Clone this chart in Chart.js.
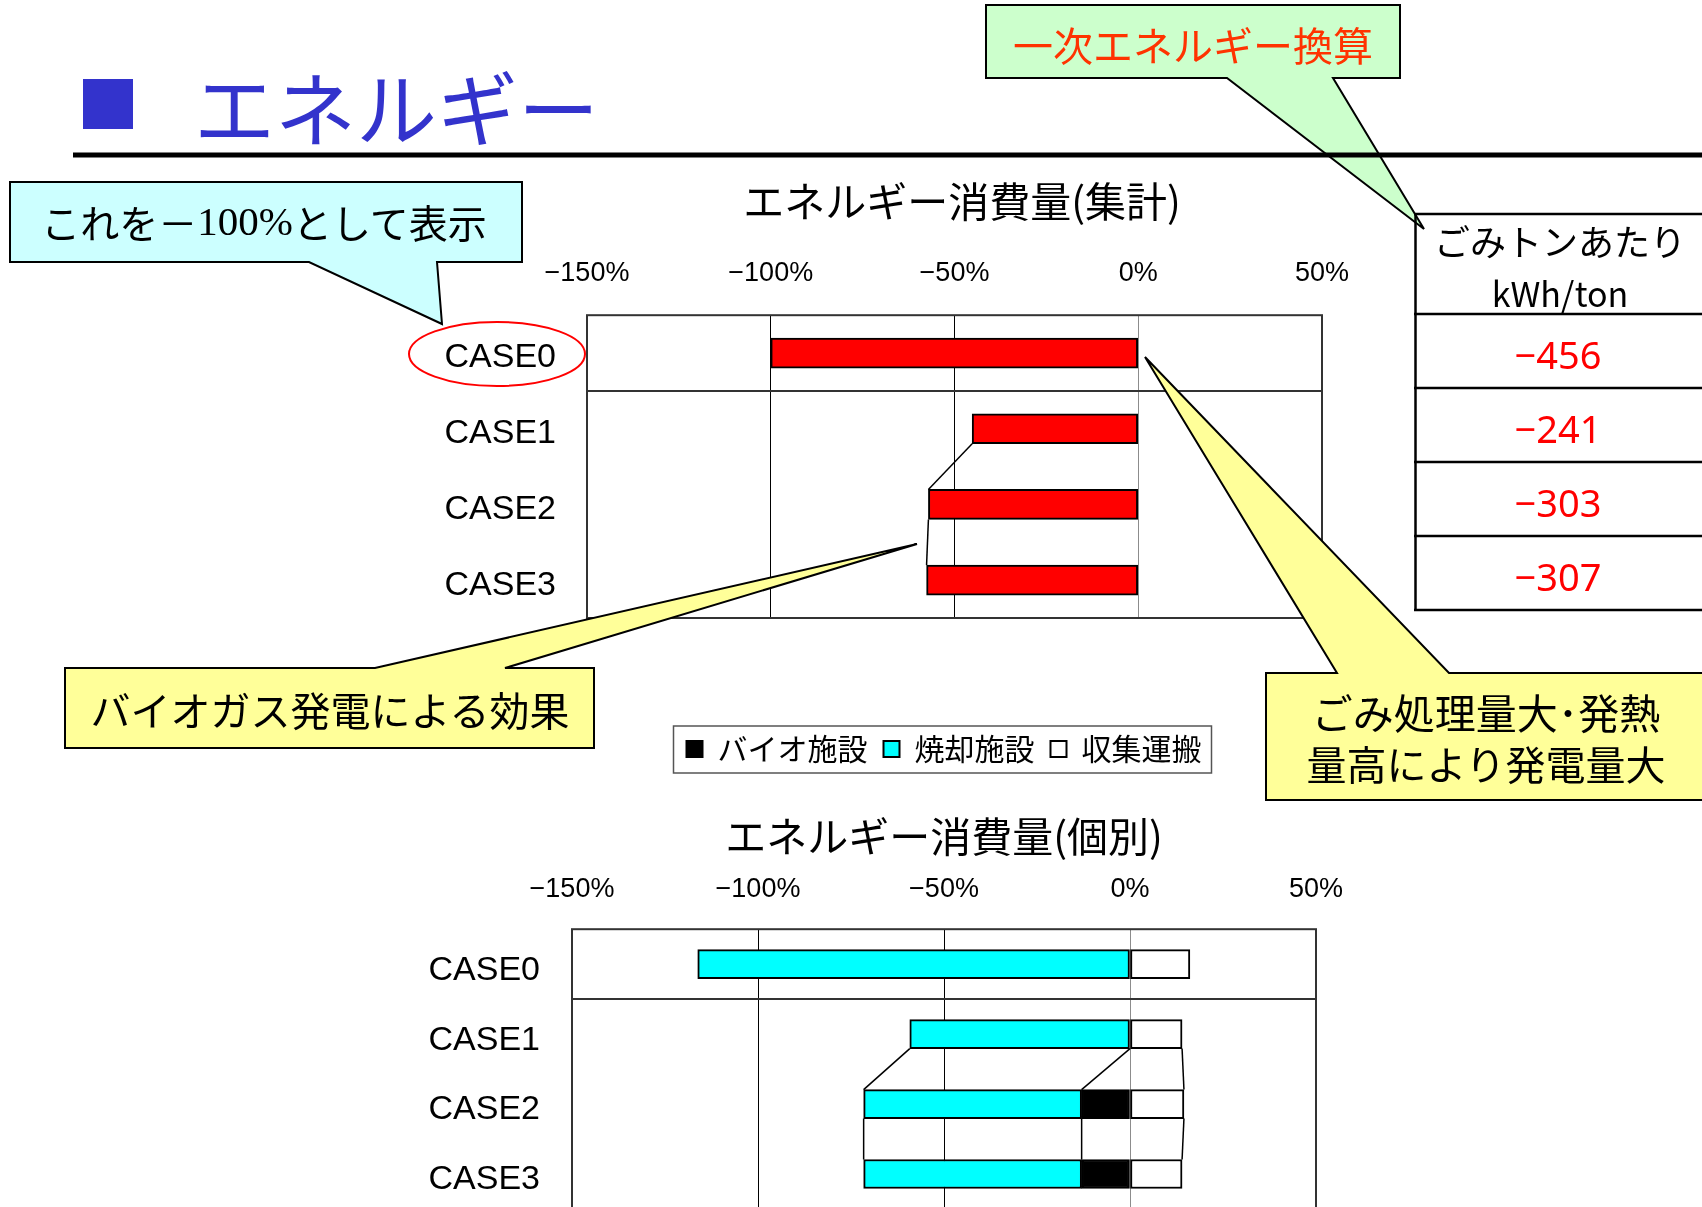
<!DOCTYPE html>
<html lang="ja">
<head>
<meta charset="utf-8">
<script src="https://cdn.jsdelivr.net/npm/chart.js@4.4.1/dist/chart.umd.min.js"></script>
<style>
html,body{margin:0;padding:0;background:#fff;}
body{width:1702px;height:1207px;overflow:hidden;position:relative;font-family:'Noto Sans CJK JP',sans-serif;}
.cw{position:absolute;}
#overlay{position:absolute;left:0;top:0;z-index:2;pointer-events:none;}
</style>
</head>
<body>
<div class="cw" style="left:400px;top:170px;width:1124px;height:460px"><canvas id="c1" width="1124" height="460"></canvas></div>
<div class="cw" style="left:372px;top:708px;width:984px;height:507px"><canvas id="c2" width="984" height="507"></canvas></div>

<svg id="overlay" width="1702" height="1207" xmlns="http://www.w3.org/2000/svg" font-family="'Noto Sans CJK JP', sans-serif">
  <!-- page heading -->
  <rect x="83" y="79" width="50" height="50" fill="#3333CC"/>
  <text x="194" y="104" font-size="81" fill="#3333CC" dominant-baseline="central">エネルギー</text>

  <!-- green callout -->
  <path d="M986,5 H1400 V78 H1333 L1424,229 L1227,78 H986 Z" fill="#CCFFCC" stroke="#000" stroke-width="2"/>
  <text x="1193" y="44" font-size="40" fill="#FF3300" text-anchor="middle" dominant-baseline="central">一次エネルギー換算</text>

  <!-- heading rule -->
  <rect x="73" y="152.5" width="1640" height="5" fill="#000"/>

  <!-- cyan callout -->
  <path d="M10,182 H522 V262 H437 L442,324 L309,262 H10 Z" fill="#CCFFFF" stroke="#000" stroke-width="2"/>
  <text x="264" y="221" font-size="39" fill="#000" text-anchor="middle" dominant-baseline="central">これを－<tspan font-family="'Liberation Serif', serif" font-size="41">100%</tspan>として表示</text>

  <!-- red ellipse around CASE0 -->
  <ellipse cx="497" cy="354" rx="88" ry="32" fill="none" stroke="#FF0000" stroke-width="2"/>

  <!-- left yellow callout -->
  <path d="M65,668 H375 L917,544 L505,668 H594 V748 H65 Z" fill="#FFFF99" stroke="#000" stroke-width="2"/>
  <text x="330" y="709" font-size="40" fill="#000" text-anchor="middle" dominant-baseline="central">バイオガス発電による効果</text>

  <!-- right yellow callout -->
  <path d="M1266,673 H1337 L1145,357 L1449,673 H1712 V800 H1266 Z" fill="#FFFF99" stroke="#000" stroke-width="2"/>
  <text x="1486" y="711" font-size="41" fill="#000" text-anchor="middle" dominant-baseline="central">ごみ処理量大･発熱</text>
  <text x="1486" y="763" font-size="40" fill="#000" text-anchor="middle" dominant-baseline="central">量高により発電量大</text>

  <!-- table -->
  <g id="tbl" stroke="#000" stroke-width="2.5">
    <line x1="1415.5" y1="213" x2="1415.5" y2="611"/>
    <line x1="1414" y1="214" x2="1702" y2="214"/>
    <line x1="1414" y1="314" x2="1702" y2="314"/>
    <line x1="1414" y1="388" x2="1702" y2="388"/>
    <line x1="1414" y1="462" x2="1702" y2="462"/>
    <line x1="1414" y1="536" x2="1702" y2="536"/>
    <line x1="1414" y1="610" x2="1702" y2="610"/>
  </g>
  <text x="1560" y="240" font-size="36" fill="#000" text-anchor="middle" dominant-baseline="central">ごみトンあたり</text>
  <text x="1560" y="292" font-size="34" fill="#000" text-anchor="middle" dominant-baseline="central">kWh/ton</text>
  <g id="tblvals"></g>
</svg>

<script>
// ---------- data ----------
const categories = ['CASE0', 'CASE1', 'CASE2', 'CASE3'];
const tickValues = [-150, -100, -50, 0, 50];
// aggregated energy consumption (% of CASE0 net)
const totalValues = [-100.0, -45.2, -57.1, -57.6];
// individual breakdown (%)
const seriesNames = ['バイオ施設', '焼却施設', '収集運搬'];
const bioValues = [0, 0, -13.0, -13.0];
const incinValues = [-116.2, -59.2, -58.6, -58.6];
const collectValues = [16.1, 14.0, 14.5, 14.0];
// per-ton values, kWh/ton
const perTonValues = [-456, -241, -303, -307];
const chartTitles = ['エネルギー消費量(集計)', 'エネルギー消費量(個別)'];

// ---------- helpers ----------
const FONT_JP = "'Noto Sans CJK JP', sans-serif";
const FONT_LAT = "'Liberation Sans', Arial, sans-serif";
const fmtPct = v => (v < 0 ? '−' + Math.abs(v) : String(v)) + '%';
const zeroPad = s => { s.paddingLeft = 0; s.paddingRight = 0; s.paddingTop = 0; s.paddingBottom = 0; };

function xScale(pad, h) {
  return {
    type: 'linear', position: 'top', min: tickValues[0], max: tickValues[tickValues.length - 1], stacked: true,
    afterBuildTicks: s => { s.ticks = tickValues.map(v => ({ value: v })); },
    afterFit: s => { s.height = h; zeroPad(s); },
    ticks: { padding: pad, color: '#000', font: { family: FONT_LAT, size: 27 }, callback: v => fmtPct(v), maxRotation: 0, autoSkip: false },
    grid: { drawTicks: false, lineWidth: 1, color: c => (c.tick && c.tick.value === 0) ? '#8c8c8c' : '#000' },
    border: { display: false }
  };
}
function yScale(w, pad, off) {
  return {
    type: 'category', stacked: true,
    afterFit: s => { s.width = w; zeroPad(s); },
    ticks: { padding: pad, labelOffset: off, color: '#000', font: { family: FONT_LAT, size: 34 } },
    grid: { offset: true, drawTicks: false, lineWidth: 2, color: c => c.index === 1 ? '#333' : 'rgba(0,0,0,0)' },
    border: { display: false }
  };
}
const framePlugin = {
  id: 'frame',
  beforeDatasetsDraw(chart) {
    const { ctx, chartArea: a } = chart;
    ctx.save(); ctx.strokeStyle = '#333'; ctx.lineWidth = 2;
    ctx.strokeRect(a.left, a.top, a.right - a.left, a.bottom - a.top);
    ctx.restore();
  }
};
const seriesLinePlugin = {
  id: 'serieslines',
  afterDatasetsDraw(chart, args, opts) {
    const ctx = chart.ctx;
    ctx.save(); ctx.strokeStyle = '#000'; ctx.lineWidth = 1.5;
    chart.data.datasets.forEach((ds, di) => {
      const meta = chart.getDatasetMeta(di);
      (opts.pairs || []).forEach(([i, j]) => {
        const a = meta.data[i], b = meta.data[j];
        if (!a || !b) return;
        ctx.beginPath();
        ctx.moveTo(a.x, a.y + a.height / 2);
        ctx.lineTo(b.x, b.y - b.height / 2);
        ctx.stroke();
      });
    });
    ctx.restore();
  }
};
const legendFramePlugin = {
  id: 'legendFrame',
  afterDraw(chart) {
    const lg = chart.legend, hb = lg && lg.legendHitBoxes;
    if (!hb || !hb.length) return;
    const f = hb[0], l = hb[hb.length - 1];
    const cy = f.top + f.height / 2;
    const ctx = chart.ctx;
    ctx.save(); ctx.strokeStyle = '#555'; ctx.lineWidth = 1.5;
    ctx.strokeRect(f.left - 13, cy - 23, (l.left + l.width) - f.left + 23, 47);
    ctx.restore();
  }
};
const barStyle = { borderColor: '#000', borderWidth: 2, borderSkipped: false };

// ---------- top chart ----------
new Chart(document.getElementById('c1'), {
  type: 'bar',
  data: {
    labels: categories,
    datasets: [Object.assign({ label: '合計', data: totalValues, backgroundColor: '#FF0000', barThickness: 30 }, barStyle)]
  },
  options: {
    indexAxis: 'y', responsive: false, animation: false, devicePixelRatio: 1,
    layout: { autoPadding: false, padding: { top: 7, left: 0, right: 0, bottom: 12 } },
    plugins: {
      legend: { display: false }, tooltip: { enabled: false },
      title: { display: true, text: chartTitles[0], color: '#000',
               font: { family: FONT_JP, size: 41, weight: 'normal' }, padding: { top: 0, bottom: 5 } },
      serieslines: { pairs: [[1, 2], [2, 3]] }
    },
    scales: {
      x: xScale(25, 84),
      y: yScale(187, 31, 5),
      // empty spacer on the right (keeps the title centred where the original has it)
      ySpacer: { type: 'category', position: 'right', display: true,
                 afterFit: s => { s.width = 202; zeroPad(s); },
                 ticks: { display: false }, grid: { display: false }, border: { display: false } }
    }
  },
  plugins: [framePlugin, seriesLinePlugin]
});

// ---------- bottom chart ----------
new Chart(document.getElementById('c2'), {
  type: 'bar',
  data: {
    labels: categories,
    datasets: [
      Object.assign({ label: seriesNames[0], data: bioValues, backgroundColor: '#000000', barThickness: 29 }, barStyle),
      Object.assign({ label: seriesNames[1], data: incinValues, backgroundColor: '#00FFFF', barThickness: 29 }, barStyle),
      Object.assign({ label: seriesNames[2], data: collectValues, backgroundColor: '#FFFFFF', barThickness: 29 }, barStyle)
    ]
  },
  options: {
    indexAxis: 'y', responsive: false, animation: false, devicePixelRatio: 1,
    layout: { autoPadding: false, padding: { top: 10, left: 0, right: 40, bottom: 6 } },
    plugins: {
      tooltip: { enabled: false },
      legend: { display: true, position: 'top', weight: 3000, fullSize: false,
                labels: { boxWidth: 16, boxHeight: 16, padding: 16, color: '#000', font: { family: FONT_JP, size: 30 } } },
      title: { display: true, text: chartTitles[1], color: '#000', fullSize: false,
               font: { family: FONT_JP, size: 41, weight: 'normal' }, padding: { top: 38, bottom: 8 } },
      serieslines: { pairs: [[1, 2], [2, 3]] }
    },
    scales: { x: xScale(23, 60), y: yScale(200, 32, 6) }
  },
  plugins: [framePlugin, seriesLinePlugin, legendFramePlugin]
});

// ---------- table values ----------
(function () {
  const g = document.getElementById('tblvals');
  const rowLines = [314, 388, 462, 536, 610];
  perTonValues.forEach((v, i) => {
    const t = document.createElementNS('http://www.w3.org/2000/svg', 'text');
    t.setAttribute('x', 1558);
    t.setAttribute('y', (rowLines[i] + rowLines[i + 1]) / 2 + 3);
    t.setAttribute('font-size', 38);
    t.setAttribute('font-family', "'Noto Sans', sans-serif");
    t.setAttribute('fill', '#FF0000');
    t.setAttribute('text-anchor', 'middle');
    t.setAttribute('dominant-baseline', 'central');
    t.textContent = (v < 0 ? '−' + Math.abs(v) : String(v));
    g.appendChild(t);
  });
})();
</script>
</body>
</html>
